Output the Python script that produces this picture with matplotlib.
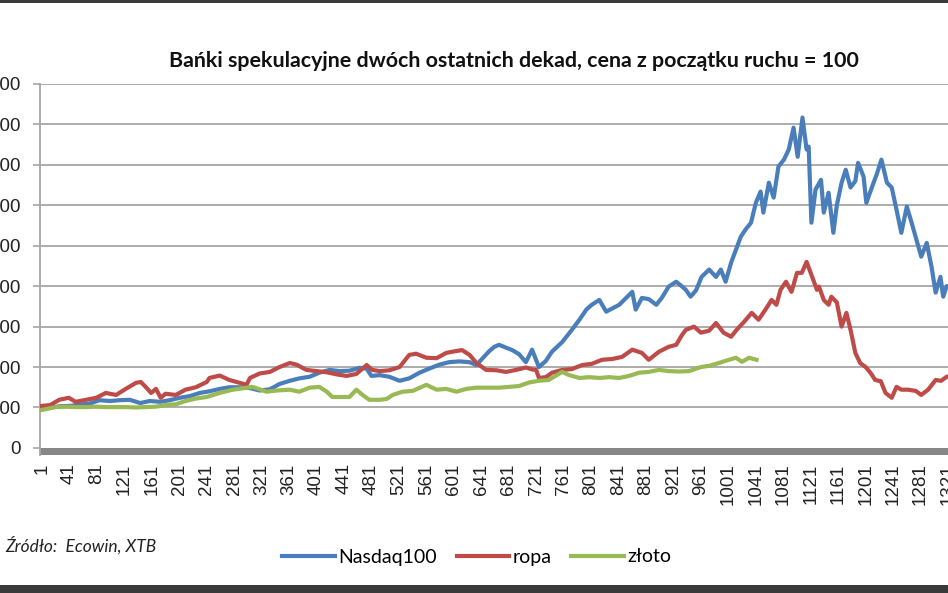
import matplotlib
matplotlib.use("Agg")
import matplotlib.pyplot as plt
from matplotlib.patches import Rectangle
from matplotlib.lines import Line2D

# ---------------- data (day index, value; start of move = 100) ----------------
nasdaq_day = [1, 13, 27, 42, 56, 71, 85, 100, 114, 129, 144, 158, 173, 187, 202, 216, 231, 245, 260, 274,
              289, 304, 318, 333, 347, 362, 376, 391, 405, 420, 435, 449, 464, 474, 481, 493, 507, 522, 536, 551,
              565, 580, 594, 609, 624, 634, 642, 653, 660, 667, 677, 686, 696, 706, 715, 725, 735, 744, 759, 773,
              784, 794, 802, 813, 823, 832, 842, 852, 861, 866, 875, 885, 896, 904, 914, 925, 933, 939, 946, 954,
              962, 973, 983, 990, 997, 1005, 1012, 1019, 1026, 1034, 1041, 1048, 1052, 1060, 1067, 1074, 1082, 1089, 1096, 1102,
              1109, 1115, 1118, 1122, 1128, 1136, 1140, 1147, 1154, 1159, 1166, 1172, 1179, 1186, 1190, 1198, 1202, 1210, 1217, 1224,
              1232, 1239, 1246, 1253, 1261, 1268, 1275, 1282, 1290, 1297, 1303, 1310, 1314, 1319, 1330]
nasdaq_val = [98, 100, 103, 104, 107, 110, 118, 116, 118, 119, 111, 116, 114, 118, 124, 128, 136, 140, 146, 150,
              150, 148, 142, 145, 158, 166, 172, 176, 186, 193, 190, 191, 198, 196, 178, 180, 176, 166, 172, 186,
              196, 206, 212, 214, 212, 205, 220, 240, 250, 255, 248, 242, 232, 212, 243, 200, 215, 238, 262, 292,
              317, 342, 354, 366, 337, 345, 354, 371, 386, 342, 371, 368, 354, 371, 399, 411, 400, 391, 374, 390,
              423, 441, 423, 441, 411, 458, 490, 522, 540, 557, 606, 634, 582, 656, 619, 696, 713, 738, 792, 720,
              817, 738, 745, 557, 639, 663, 582, 631, 532, 600, 656, 688, 644, 660, 705, 671, 606, 644, 676, 713,
              656, 644, 589, 532, 597, 557, 515, 473, 507, 448, 384, 423, 374, 400, 395]

ropa_day = [1, 13, 26, 40, 50, 65, 80, 94, 109, 123, 138, 145, 152, 160, 167, 174, 181, 196, 210, 225,
            241, 245, 260, 274, 289, 299, 304, 318, 333, 347, 362, 372, 386, 401, 416, 430, 445, 459, 474, 482,
            493, 507, 522, 536, 546, 561, 576, 590, 599, 613, 624, 634, 648, 663, 677, 692, 706, 715, 721, 725,
            735, 744, 759, 773, 788, 802, 817, 832, 846, 861, 875, 885, 900, 914, 925, 933, 939, 951, 961, 973,
            983, 994, 1005, 1013, 1024, 1035, 1045, 1055, 1064, 1071, 1077, 1085, 1093, 1101, 1108, 1115, 1122, 1130, 1133, 1140,
            1147, 1151, 1159, 1166, 1173, 1179, 1186, 1193, 1201, 1208, 1215, 1223, 1230, 1239, 1246, 1253, 1263, 1274, 1282, 1292,
            1303, 1311, 1319, 1330]
ropa_val = [104, 106, 119, 124, 114, 119, 124, 136, 131, 146, 161, 163, 151, 136, 146, 124, 134, 131, 144, 150,
            163, 173, 179, 168, 161, 156, 173, 184, 188, 200, 210, 206, 193, 190, 187, 182, 178, 183, 205, 193,
            190, 192, 200, 230, 233, 223, 222, 235, 238, 242, 230, 210, 193, 192, 188, 193, 199, 194, 193, 173,
            175, 186, 193, 195, 205, 208, 218, 220, 225, 243, 235, 218, 238, 250, 255, 278, 292, 300, 285, 290,
            309, 285, 275, 292, 312, 334, 317, 342, 366, 354, 391, 411, 386, 433, 433, 460, 428, 391, 399, 366,
            354, 374, 360, 300, 334, 292, 235, 210, 200, 186, 168, 165, 136, 124, 151, 144, 144, 141, 131, 144,
            168, 166, 176, 178]

zloto_day = [1, 7, 21, 36, 50, 65, 80, 94, 109, 123, 138, 152, 167, 181, 196, 210, 225, 241, 260, 279,
             308, 328, 343, 362, 376, 391, 405, 416, 424, 439, 449, 459, 468, 478, 493, 503, 512, 526, 541, 561,
             576, 590, 605, 619, 634, 653, 667, 682, 696, 711, 725, 739, 759, 769, 784, 798, 813, 827, 842, 856,
             871, 885, 900, 914, 929, 944, 961, 973, 987, 1002, 1012, 1021, 1031, 1042]
zloto_val = [94, 96, 101, 102, 101, 101, 102, 101, 101, 101, 100, 101, 102, 106, 108, 116, 122, 126, 136, 144,
             151, 139, 142, 144, 139, 149, 151, 139, 126, 126, 126, 144, 131, 119, 119, 121, 131, 139, 141, 156,
             144, 146, 139, 146, 149, 149, 149, 151, 153, 162, 166, 168, 188, 180, 173, 175, 173, 175, 173, 178,
             186, 188, 193, 190, 189, 190, 200, 203, 210, 218, 223, 213, 223, 218]

series_names = ["Nasdaq100", "ropa", "złoto"]
series_colors = ["#4A7EBB", "#BE4B48", "#98B954"]

x_ticks = list(range(1, 1322, 40))
y_ticks = list(range(0, 901, 100))

title = "Bańki spekulacyjne dwóch ostatnich dekad, cena z początku ruchu = 100"
source = "Źródło:  Ecowin, XTB"

# ---------------- figure ----------------
W, H = 948, 593
fig = plt.figure(figsize=(W / 100, H / 100), dpi=100)
fig.patch.set_facecolor("white")

ax = fig.add_axes([40 / W, 1 - 455 / H, 908 / W, (455 - 84) / H])
ax.set_xlim(-1.9, 1319)
ax.set_ylim(-17.5, 900)

for d, v, c, n in zip([nasdaq_day, ropa_day, zloto_day],
                      [nasdaq_val, ropa_val, zloto_val], series_colors, series_names):
    ax.plot(d, v, color=c, lw=3.0, label=n, solid_joinstyle="round", zorder=3)

# floor band under zero line
ax.axhspan(-17.5, 0, color="#878787", zorder=2, lw=0)

for yv in y_ticks[1:]:
    ax.axhline(yv, color="#A6A6A6", lw=1.3, zorder=1)

for s in ["top", "right", "bottom"]:
    ax.spines[s].set_visible(False)
ax.spines["left"].set_color("#A6A6A6")
ax.spines["left"].set_linewidth(1.3)

ax.set_yticks(y_ticks)
ax.set_yticklabels([str(v) for v in y_ticks], family="Liberation Sans", fontsize=13.5, color="#222222")
ax.tick_params(axis="y", length=5, width=1.2, color="#A6A6A6", pad=9)

ax.set_xticks(x_ticks)
ax.set_xticklabels([str(v) for v in x_ticks], rotation=90, family="Liberation Sans",
                   fontsize=13.5, color="#222222")
ax.tick_params(axis="x", length=0, pad=6)

fig.text(514 / W, 1 - 61 / H, title, ha="center", va="center", family="Lato",
         fontweight="bold", fontsize=15.4, color="#111111")

fig.text(5 / W, 1 - 545 / H, source, ha="left", va="center", family="Lato",
         style="italic", fontsize=12.5, color="#222222")

handles = [Line2D([0], [0], color=c, lw=3.0) for c in series_colors]
fig.legend(handles, series_names, loc="center", bbox_to_anchor=(477 / W, 1 - 557 / H),
           ncol=3, frameon=False, handlelength=2.7, handletextpad=0.2, columnspacing=1.0,
           prop={"family": "Lato", "size": 14})

# dark frame bands (top and bottom of the screenshot)
fig.add_artist(Rectangle((0, 1 - 3 / H), 1, 3 / H, transform=fig.transFigure,
                         color="#3A3A3A", lw=0))
fig.add_artist(Rectangle((0, 0), 1, 8 / H, transform=fig.transFigure,
                         color="#3A3A3A", lw=0))

fig.savefig("out.png", dpi=100)
